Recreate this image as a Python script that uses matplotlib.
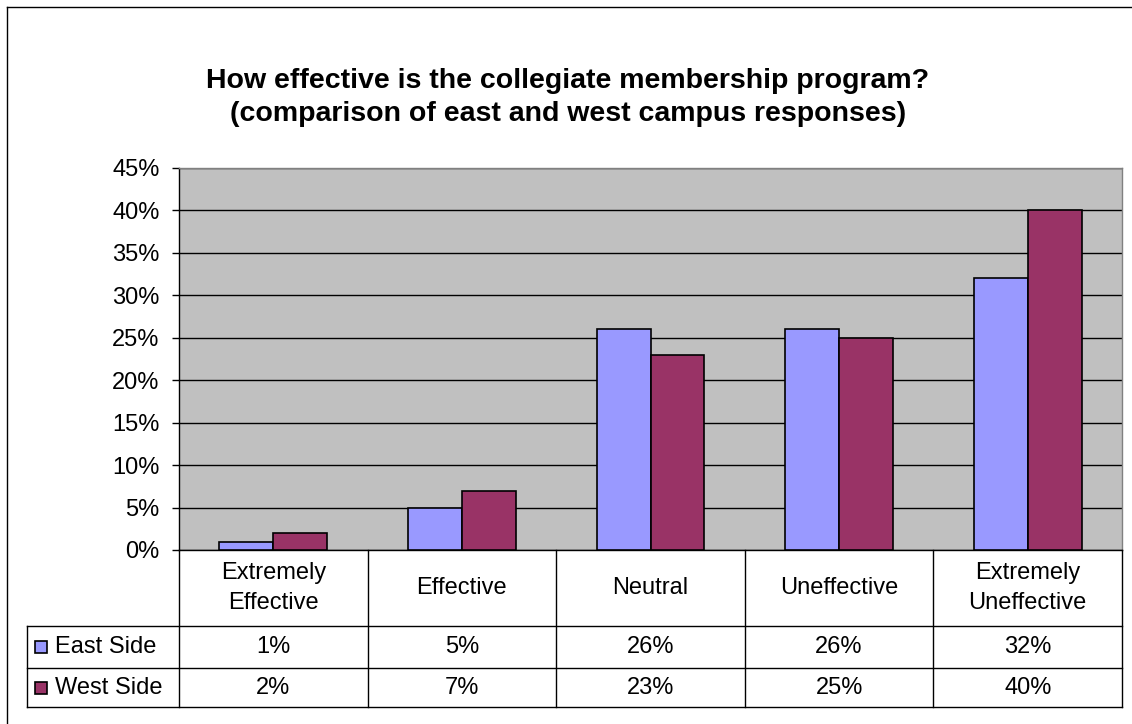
import numpy as np
import matplotlib
matplotlib.use("Agg")
from matplotlib import pyplot as plt
from matplotlib.patches import Rectangle

plt.rcParams['font.family'] = ['Liberation Sans', 'DejaVu Sans']

categories = ['Extremely\nEffective', 'Effective', 'Neutral', 'Uneffective', 'Extremely\nUneffective']
series_names = ['East Side', 'West Side']
east = [1, 5, 26, 26, 32]
west = [2, 7, 23, 25, 40]
yticks = [0, 5, 10, 15, 20, 25, 30, 35, 40, 45]
colors = ['#9999FF', '#993366']

W, H = 1132, 724
fs = 17
fig = plt.figure(figsize=(W / 100, H / 100), dpi=100)

# plot area in pixels (left, top, right, bottom)
pl, pt, pr, pb = 179, 168, 1122, 550
ax = fig.add_axes([pl / W, 1 - pb / H, (pr - pl) / W, (pb - pt) / H])
ax.set_facecolor('#C0C0C0')

n = len(categories)
x = np.arange(n)
bw = 1 / 3.5
ax.bar(x - bw / 2, east, bw, color=colors[0], edgecolor='black', linewidth=1.2, zorder=3)
ax.bar(x + bw / 2, west, bw, color=colors[1], edgecolor='black', linewidth=1.2, zorder=3)

ax.set_xlim(-0.5, n - 0.5)
ax.set_ylim(0, 45)
ax.set_yticks(yticks)
ax.set_yticklabels(['%d%%' % v for v in yticks], fontsize=fs)
ax.set_xticks([])
ax.yaxis.grid(True, color='black', linewidth=1)
ax.set_axisbelow(True)
ax.tick_params(axis='y', length=5, width=1, color='black', pad=9)
ax.spines['left'].set_color('black')
ax.spines['bottom'].set_color('black')
ax.spines['top'].set_color('#808080')
ax.spines['right'].set_color('#808080')
for s in ax.spines.values():
    s.set_linewidth(1)


def fx(px):
    return px / W


def fy(py):
    return 1 - py / H


# data table
cw = (pr - pl) / n
r1, r2, r3 = 626, 668, 707
tl = 27
lines = [
    ((pl, pl), (pb, r3)),
    ((tl, pr), (r1, r1)),
    ((tl, pr), (r2, r2)),
    ((tl, pr), (r3, r3)),
    ((tl, tl), (r1, r3)),
    ((pr, pr), (pb, r3)),
]
for i in range(1, n):
    lines.append(((pl + i * cw, pl + i * cw), (pb, r3)))
for xs, ys in lines:
    fig.add_artist(plt.Line2D([fx(v) for v in xs], [fy(v) for v in ys], color='black', linewidth=1))

for i, cat in enumerate(categories):
    cx = pl + (i + 0.5) * cw
    fig.text(fx(cx), fy((pb + r1) / 2), cat, ha='center', va='center', fontsize=fs, linespacing=1.45)
    fig.text(fx(cx), fy((r1 + r2) / 2), '%d%%' % east[i], ha='center', va='center', fontsize=fs)
    fig.text(fx(cx), fy((r2 + r3) / 2), '%d%%' % west[i], ha='center', va='center', fontsize=fs)

for j, (name, c) in enumerate(zip(series_names, colors)):
    yc = (r1 + r2) / 2 if j == 0 else (r2 + r3) / 2
    fig.add_artist(Rectangle((fx(35), fy(yc + 6)), 12 / W, 12 / H, facecolor=c, edgecolor='black',
                             linewidth=1.2, transform=fig.transFigure))
    fig.text(fx(55), fy(yc), name, ha='left', va='center', fontsize=fs)

# title
fig.text(fx(568), fy(81), 'How effective is the collegiate membership program?',
         ha='center', va='center', fontsize=20.5, fontweight='bold')
fig.text(fx(568), fy(114), '(comparison of east and west campus responses)',
         ha='center', va='center', fontsize=20.5, fontweight='bold')

# outer chart border
fig.add_artist(plt.Line2D([fx(7), fx(7)], [fy(7), fy(724)], color='black', linewidth=1))
fig.add_artist(plt.Line2D([fx(7), fx(1132)], [fy(7), fy(7)], color='black', linewidth=1))

fig.savefig('out.png', dpi=100)
